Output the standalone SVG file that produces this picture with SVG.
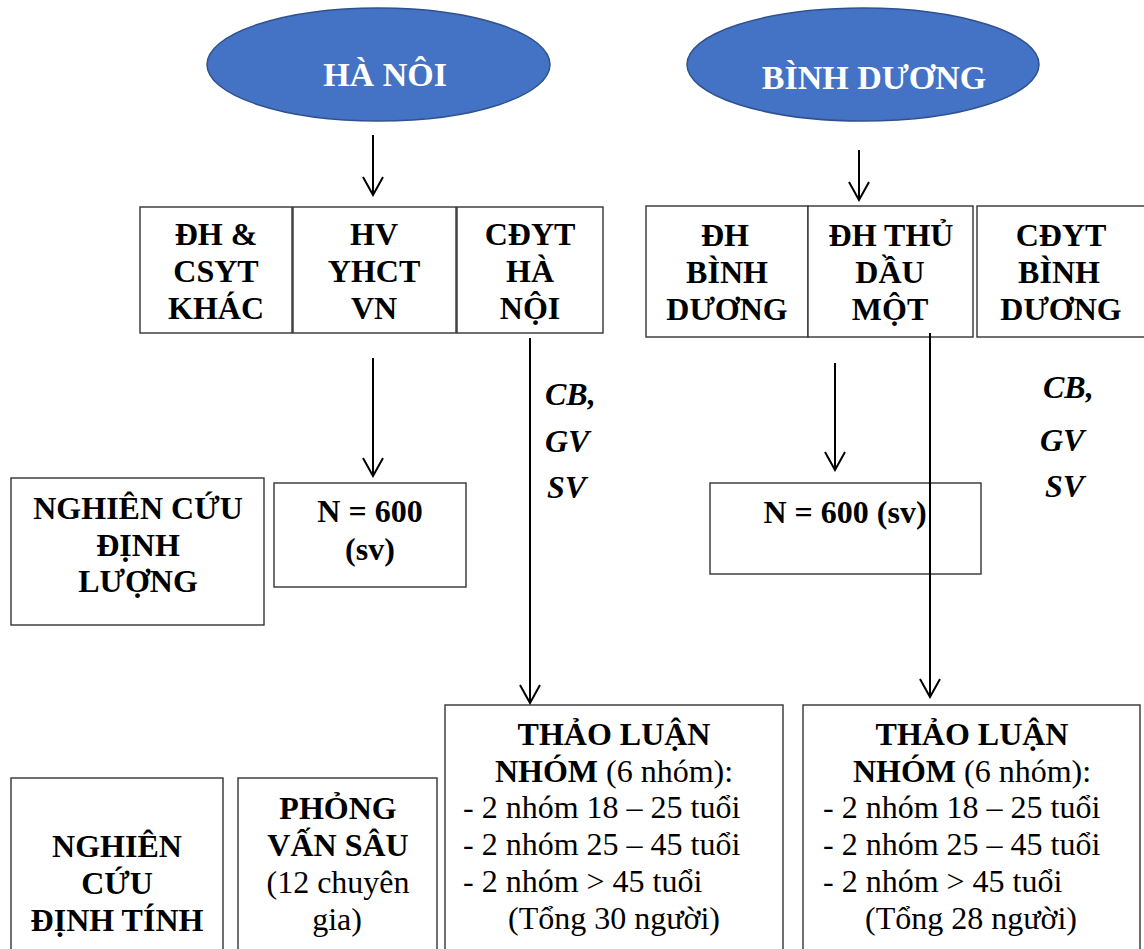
<svg xmlns="http://www.w3.org/2000/svg" width="1144" height="949" viewBox="0 0 1144 949">
<style>
text{font-family:"Liberation Serif","Times New Roman",serif;font-size:32px;fill:#000}
.b{font-weight:bold}
.bi{font-weight:bold;font-style:italic}
.c{text-anchor:middle}
.box{fill:#fff;stroke:#333;stroke-width:1.4}
.ell{fill:#4472C4;stroke:#2F528F;stroke-width:1.5}
.et{fill:#fff;font-weight:bold;font-size:34px;text-anchor:middle}
.con{stroke:#000;stroke-width:2;fill:none}
</style>
<defs>
<marker id="arr" viewBox="-20 -12 22 24" refX="0" refY="0" markerWidth="22" markerHeight="24" orient="auto" markerUnits="userSpaceOnUse">
<path d="M-18,-10 L0,0 L-18,10" fill="none" stroke="#000" stroke-width="2"/>
</marker>
</defs>
<rect width="1144" height="949" fill="#fff"/>

<g id="hanoi"><ellipse class="ell" cx="378.5" cy="64.5" rx="171.5" ry="56.5"/><text class="et" x="385" y="86">HÀ NÔI</text></g>
<g id="binhduong"><ellipse class="ell" cx="863" cy="64.5" rx="176" ry="56.5"/><text class="et" x="874" y="89">BÌNH DƯƠNG</text></g>

<g id="dh-csyt"><rect class="box" x="140" y="207" width="152" height="126"/><text class="b c" x="216" y="245">ĐH &amp;</text><text class="b c" x="216" y="282">CSYT</text><text class="b c" x="216" y="319">KHÁC</text></g>
<g id="hv-yhct"><rect class="box" x="293" y="207" width="163" height="126"/><text class="b c" x="374" y="245">HV</text><text class="b c" x="374" y="282">YHCT</text><text class="b c" x="374" y="319">VN</text></g>
<g id="cdyt-hn"><rect class="box" x="457" y="207" width="146" height="126"/><text class="b c" x="530" y="245">CĐYT</text><text class="b c" x="530" y="282">HÀ</text><text class="b c" x="530" y="319">NỘI</text></g>

<g id="dh-bd"><rect class="box" x="646" y="206" width="162" height="131"/><text class="b c" x="725" y="246">ĐH</text><text class="b c" x="727" y="283">BÌNH</text><text class="b c" x="727" y="320">DƯƠNG</text></g>
<g id="dh-tdm"><rect class="box" x="808" y="206" width="165" height="131"/><text class="b c" x="891" y="246">ĐH THỦ</text><text class="b c" x="890" y="283">DẦU</text><text class="b c" x="890" y="320">MỘT</text></g>
<g id="cdyt-bd"><rect class="box" x="977" y="206" width="175" height="131"/><text class="b c" x="1061" y="246">CĐYT</text><text class="b c" x="1059" y="283">BÌNH</text><text class="b c" x="1061" y="320">DƯƠNG</text></g>

<g id="dinh-luong"><rect class="box" x="11" y="478" width="253" height="147"/><text class="b c" x="138" y="519">NGHIÊN CỨU</text><text class="b c" x="138" y="556">ĐỊNH</text><text class="b c" x="138" y="592">LƯỢNG</text></g>
<g id="n600-hn"><rect class="box" x="274" y="483" width="192" height="104"/><text class="b c" x="370" y="522">N = 600</text><text class="b c" x="370" y="560">(sv)</text></g>
<g id="n600-bd"><rect class="box" x="710" y="483" width="271" height="91"/><text class="b c" x="845" y="523">N = 600 (sv)</text></g>

<g id="label-hn"><text class="bi" x="545" y="405">CB,</text><text class="bi" x="545" y="452">GV</text><text class="bi" x="547" y="498">SV</text></g>
<g id="label-bd"><text class="bi" x="1043" y="398">CB,</text><text class="bi" x="1040" y="451">GV</text><text class="bi" x="1045" y="497">SV</text></g>

<g id="dinh-tinh"><rect class="box" x="11" y="778" width="212" height="190"/><text class="b c" x="117" y="857">NGHIÊN</text><text class="b c" x="117" y="894">CỨU</text><text class="b c" x="117" y="931">ĐỊNH TÍNH</text></g>
<g id="phong-van"><rect class="box" x="238" y="778" width="199" height="190"/><text class="b c" x="338" y="819">PHỎNG</text><text class="b c" x="338" y="856">VẤN SÂU</text><text class="c" x="338" y="893">(12 chuyên</text><text class="c" x="337" y="930">gia)</text></g>
<g id="thao-luan-hn"><rect class="box" x="445" y="705" width="338" height="260"/><text class="b c" x="614" y="745">THẢO LUẬN</text><text class="c" x="614" y="782"><tspan class="b">NHÓM</tspan> (6 nhóm):</text><text x="463" y="818">- 2 nhóm 18 – 25 tuổi</text><text x="463" y="855">- 2 nhóm 25 – 45 tuổi</text><text x="463" y="892">- 2 nhóm &gt; 45 tuổi</text><text x="508" y="929">(Tổng 30 người)</text></g>
<g id="thao-luan-bd"><rect class="box" x="803" y="705" width="337" height="260"/><text class="b c" x="972" y="745">THẢO LUẬN</text><text class="c" x="972" y="782"><tspan class="b">NHÓM</tspan> (6 nhóm):</text><text x="823" y="818">- 2 nhóm 18 – 25 tuổi</text><text x="823" y="855">- 2 nhóm 25 – 45 tuổi</text><text x="823" y="892">- 2 nhóm &gt; 45 tuổi</text><text x="865" y="929">(Tổng 28 người)</text></g>

<g id="connectors">
<line class="con" x1="373" y1="135" x2="373" y2="195" marker-end="url(#arr)"/>
<line class="con" x1="859" y1="150" x2="859" y2="200" marker-end="url(#arr)"/>
<line class="con" x1="373" y1="358" x2="373" y2="476" marker-end="url(#arr)"/>
<line class="con" x1="530" y1="338" x2="530" y2="703" marker-end="url(#arr)"/>
<line class="con" x1="835" y1="363" x2="835" y2="470" marker-end="url(#arr)"/>
<line class="con" x1="930" y1="333" x2="930" y2="697" marker-end="url(#arr)"/>
</g>
</svg>
